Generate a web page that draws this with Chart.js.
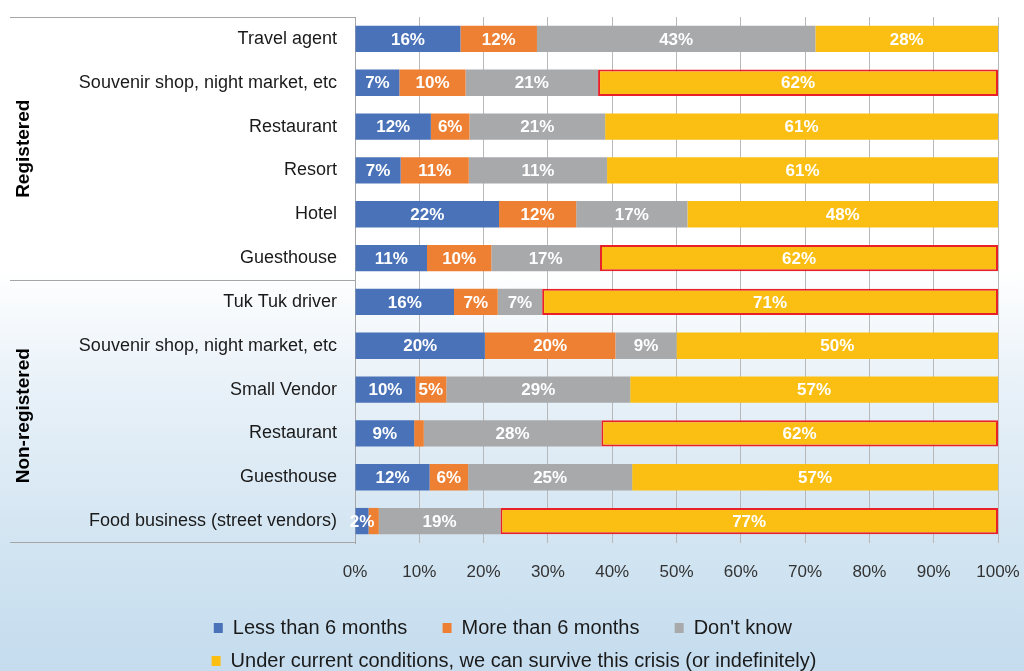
<!DOCTYPE html>
<html>
<head>
<meta charset="utf-8">
<script src="https://cdn.jsdelivr.net/npm/chart.js@4.4.1/dist/chart.umd.min.js"></script>
<style>
  html, body { margin: 0; padding: 0; }
  body {
    width: 1024px; height: 671px; overflow: hidden;
    background: linear-gradient(to bottom, #ffffff 0%, #ffffff 40%, #e8f1f8 58%, #d3e5f2 80%, #c4dcee 100%);
  }
  #wrap { position: relative; width: 1024px; height: 682px; }
</style>
</head>
<body>
<div id="wrap"><canvas id="survival_chart"></canvas></div>
<script>
// categories, top to bottom (first 6 registered, last 6 non-registered)
const categories = ['Travel agent', 'Souvenir shop, night market, etc', 'Restaurant', 'Resort', 'Hotel', 'Guesthouse',
    'Tuk Tuk driver', 'Souvenir shop, night market, etc', 'Small Vendor', 'Restaurant', 'Guesthouse', 'Food business (street vendors)'];
const groups = ['Registered', 'Non-registered'];

// bar lengths (% of respondents)
const lessThan6 = [16.4, 6.9, 11.8, 7.1, 22.4, 11.2, 15.4, 20.2, 9.4, 9.2, 11.6, 2.1];
const moreThan6 = [11.9, 10.3, 6.0, 10.6, 12.0, 10.0, 6.8, 20.3, 4.8, 1.5, 6.0, 1.6];
const dontKnow = [43.3, 20.6, 21.1, 21.5, 17.3, 16.9, 6.9, 9.5, 28.6, 27.6, 25.5, 18.9];
const survive = [28.4, 62.2, 61.1, 60.8, 48.3, 61.9, 70.9, 50.0, 57.2, 61.7, 56.9, 77.4];

// labels as printed on the bars
const lessLabels = ['16%', '7%', '12%', '7%', '22%', '11%', '16%', '20%', '10%', '9%', '12%', '2%'];
const moreLabels = ['12%', '10%', '6%', '11%', '12%', '10%', '7%', '20%', '5%', '', '6%', ''];
const dontKnowLabels = ['43%', '21%', '21%', '11%', '17%', '17%', '7%', '9%', '29%', '28%', '25%', '19%'];
const surviveLabels = ['28%', '62%', '61%', '61%', '48%', '62%', '71%', '50%', '57%', '62%', '57%', '77%'];

// rows whose yellow bar is outlined in red
const outlined = [1, 5, 6, 9, 11];

const xTicks = [0, 10, 20, 30, 40, 50, 60, 70, 80, 90, 100];

const FONT = '"Liberation Sans", Arial, sans-serif';
const ctx = document.getElementById('survival_chart').getContext('2d');

// white value labels in the middle of every segment
const barLabels = {
    id: 'barLabels',
    afterDatasetsDraw(chart) {
        const c = chart.ctx;
        c.save();
        c.font = 'bold 17px ' + FONT;
        c.fillStyle = '#ffffff';
        c.textAlign = 'center';
        c.textBaseline = 'middle';
        chart.data.datasets.forEach((ds, i) => {
            const meta = chart.getDatasetMeta(i);
            meta.data.forEach((bar, j) => {
                const txt = ds.printed[j];
                if (!txt) return;
                c.fillText(txt, (bar.x + bar.base) / 2, bar.y + 1);
            });
        });
        c.restore();
    }
};

// group labels and separator lines on the left
const groupFrame = {
    id: 'groupFrame',
    afterDraw(chart) {
        const c = chart.ctx;
        const area = chart.chartArea;
        const y = chart.scales.y;
        const mid = Math.round(y.getPixelForValue(5.5)) + 0.5;
        c.save();
        c.strokeStyle = '#a6a6a6';
        c.lineWidth = 1;
        [Math.round(area.top) + 0.5, mid, Math.round(area.bottom) - 0.5].forEach(py => {
            c.beginPath();
            c.moveTo(10, py);
            c.lineTo(area.left, py);
            c.stroke();
        });
        c.fillStyle = '#000000';
        c.font = 'bold 19px ' + FONT;
        c.textAlign = 'center';
        c.textBaseline = 'middle';
        const centres = [(area.top + mid) / 2, (mid + area.bottom) / 2 + 4];
        groups.forEach((g, i) => {
            c.save();
            c.translate(24, centres[i]);
            c.rotate(-Math.PI / 2);
            c.fillText(g, 0, 0);
            c.restore();
        });
        c.restore();
    }
};

let chart = new Chart(ctx, {
    type: 'bar',
    data: {
        labels: categories,
        datasets: [{
            label: 'Less than 6 months',
            data: lessThan6,
            printed: lessLabels,
            backgroundColor: '#4a72b8',
            borderWidth: 0
        }, {
            label: 'More than 6 months',
            data: moreThan6,
            printed: moreLabels,
            backgroundColor: '#ee8033',
            borderWidth: 0
        }, {
            label: "Don't know",
            data: dontKnow,
            printed: dontKnowLabels,
            backgroundColor: '#a8a9ab',
            borderWidth: 0
        }, {
            label: 'Under current conditions, we can survive this crisis (or indefinitely)',
            data: survive,
            printed: surviveLabels,
            backgroundColor: '#fbbf14',
            borderColor: c => outlined.includes(c.dataIndex) ? '#e8202a' : '#fbbf14',
            borderWidth: c => outlined.includes(c.dataIndex) ? 2 : 0,
            borderSkipped: false
        }]
    },
    options: {
        indexAxis: 'y',
        responsive: true,
        maintainAspectRatio: false,
        animation: false,
        layout: { padding: { top: 17, right: 26, bottom: 1, left: 30 } },
        datasets: {
            bar: { barPercentage: 0.6, categoryPercentage: 1.0 }
        },
        scales: {
            x: {
                stacked: true,
                min: 0,
                max: 100,
                afterBuildTicks: s => { s.ticks = xTicks.map(v => ({ value: v })); },
                afterFit: s => { s.height = 62; s.paddingLeft = 0; s.paddingRight = 0; },
                grid: { color: '#b8b8b8', lineWidth: 1, drawTicks: false },
                border: { display: false },
                ticks: {
                    padding: 19,
                    color: '#333333',
                    font: { family: FONT, size: 17 },
                    callback: v => v + '%'
                }
            },
            y: {
                stacked: true,
                afterFit: s => { s.width = 325; s.paddingTop = 0; s.paddingBottom = 0; },
                grid: { display: false, drawTicks: false },
                border: { display: true, color: '#a6a6a6', width: 1 },
                ticks: {
                    padding: 18,
                    color: '#1a1a1a',
                    font: { family: FONT, size: 18 }
                }
            }
        },
        plugins: {
            tooltip: { enabled: false },
            legend: {
                position: 'bottom',
                labels: {
                    color: '#1a1a1a',
                    font: { family: FONT, size: 20 },
                    boxWidth: 9,
                    boxHeight: 10,
                    padding: 13,
                    generateLabels: ch => {
                        const items = Chart.defaults.plugins.legend.labels.generateLabels(ch);
                        items.forEach((it, i) => {
                            it.lineWidth = 0;
                            it.strokeStyle = it.fillStyle;
                            if (i < items.length - 1) it.text = it.text + '\u00a0\u00a0\u00a0\u00a0';
                        });
                        return items;
                    }
                }
            }
        }
    },
    plugins: [barLabels, groupFrame]
});
</script>
</body>
</html>
